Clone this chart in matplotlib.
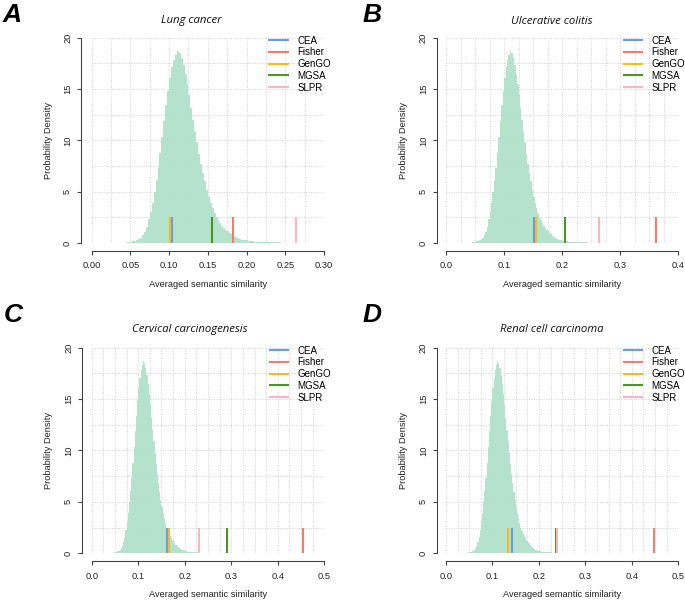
import numpy as np
import matplotlib
matplotlib.use("Agg")
import matplotlib.pyplot as plt
from matplotlib.lines import Line2D
from matplotlib.ticker import MultipleLocator

# ---------------- data ----------------
panel_letters = ["A", "B", "C", "D"]
panel_titles = ["Lung cancer", "Ulcerative colitis",
                "Cervical carcinogenesis", "Renal cell carcinoma"]
methods = ["CEA", "Fisher", "GenGO", "MGSA", "SLPR"]
method_colors = ["#6b9ae8", "#f47c6c", "#f8b91c", "#4d9423", "#fcb5bf"]

# observed averaged semantic similarity per method, per panel (A, B, C, D)
cea_values = [0.104, 0.152, 0.161, 0.141]
fisher_values = [0.182, 0.361, 0.455, 0.447]
gengo_values = [0.101, 0.155, 0.167, 0.133]
mgsa_values = [0.156, 0.205, 0.291, 0.236]
slpr_values = [0.264, 0.263, 0.231, 0.238]

x_max = [0.30, 0.4, 0.5, 0.5]
x_tick_labels = [
    ["0.00", "0.05", "0.10", "0.15", "0.20", "0.25", "0.30"],
    ["0.0", "0.1", "0.2", "0.3", "0.4"],
    ["0.0", "0.1", "0.2", "0.3", "0.4", "0.5"],
    ["0.0", "0.1", "0.2", "0.3", "0.4", "0.5"],
]
y_ticks = [0, 5, 10, 15, 20]

# null distribution histogram (same in all panels)
hist_start = 0.035
hist_bin_width = 0.0025
hist_density = [
    0.01, 0.02, 0.03, 0.04, 0.06, 0.08, 0.11, 0.15, 0.20, 0.27,
    0.36, 0.50, 0.75, 1.10, 1.60, 2.30, 3.00, 3.90, 5.00, 6.10,
    7.30, 8.80, 10.3, 11.9, 13.4, 14.8, 16.1, 17.1, 17.8, 18.3,
    18.7, 18.5, 18.0, 17.3, 16.5, 15.5, 14.4, 13.2, 12.0, 10.9,
    9.80, 8.70, 7.70, 6.80, 6.00, 5.20, 4.50, 3.90, 3.40, 2.90,
    2.50, 2.20, 1.90, 1.65, 1.45, 1.30, 1.15, 1.00, 0.85, 0.70,
    0.58, 0.48, 0.40, 0.34, 0.29, 0.25, 0.22, 0.19, 0.17, 0.15,
    0.13, 0.12, 0.11, 0.10, 0.09, 0.085, 0.08, 0.075, 0.07, 0.065,
    0.06, 0.055, 0.05, 0.05, 0.045, 0.045, 0.04, 0.04, 0.04, 0.035,
    0.035, 0.035, 0.03, 0.03, 0.03, 0.03, 0.03, 0.025, 0.025, 0.025,
    0.025, 0.025, 0.02, 0.02, 0.02, 0.02,
]

# ---------------- layout ----------------
W, H = 685, 600
fig = plt.figure(figsize=(W / 100, H / 100), dpi=100)

# axes boxes in pixels: left, top, right, bottom
boxes = [(91.7, 37.7, 324.0, 243.0), (446.0, 37.7, 678.3, 243.0),
         (91.7, 347.7, 324.3, 553.3), (446.0, 347.7, 678.3, 553.3)]
left_offsets = [11.0, 9.5, 10.0, 9.5]
letter_pos = [(12, 15), (372, 15), (13, 315), (372, 315)]
title_pos = [(191, 21), (552, 21), (190, 329.5), (552, 329.5)]
ylabel_x = [49, 403, 49, 403]

R_FONT = "Liberation Sans"
fs = 6.7
grey = "#444444"

edges = hist_start + hist_bin_width * np.arange(len(hist_density) + 1)
all_vals = [cea_values, fisher_values, gengo_values, mgsa_values, slpr_values]

for i in range(4):
    l, t, r, b = boxes[i]
    ax = fig.add_axes([l / W, 1 - b / H, (r - l) / W, (b - t) / H])
    xm = x_max[i]
    ax.set_xlim(0, xm)
    ax.set_ylim(0, 20)

    # grid
    ax.xaxis.set_minor_locator(MultipleLocator(0.025))
    ax.yaxis.set_minor_locator(MultipleLocator(2.5))
    ax.grid(which="both", linestyle=(0, (1, 1.5)), color="#d0d0d0", linewidth=0.7, zorder=0)
    ax.set_axisbelow(True)

    # histogram
    ax.stairs(hist_density, edges, fill=True, color="#b0e1ca", alpha=0.95,
              linewidth=0, zorder=2)

    # method lines
    for k, m in enumerate(methods):
        ax.vlines(all_vals[k][i], 0, 2.5, colors=method_colors[k], linewidth=1.5, zorder=3)

    # axes styling
    for s in ["top", "right"]:
        ax.spines[s].set_visible(False)
    ax.spines["left"].set_position(("outward", left_offsets[i] * 0.72))
    ax.spines["bottom"].set_position(("outward", 7.7 * 0.72))
    ax.spines["left"].set_bounds(0, 20)
    ax.spines["bottom"].set_bounds(0, xm)
    for s in ["left", "bottom"]:
        ax.spines[s].set_color(grey)
        ax.spines[s].set_linewidth(0.8)

    xt = [float(v) for v in x_tick_labels[i]]
    ax.set_xticks(xt)
    ax.set_xticklabels(x_tick_labels[i], fontsize=fs, family=R_FONT, color="#222222")
    ax.set_yticks(y_ticks)
    ax.set_yticklabels([str(v) for v in y_ticks], fontsize=fs, family=R_FONT,
                       color="#222222", rotation=90, va="center")
    ax.tick_params(which="major", length=3.2, width=0.8, color=grey)
    ax.tick_params(axis="x", pad=4.5)
    ax.tick_params(axis="y", pad=3.0)
    ax.tick_params(which="minor", length=0)

    ax.set_xlabel("Averaged semantic similarity", fontsize=fs, family=R_FONT,
                  color="#222222", labelpad=7)

    handles = [Line2D([0], [0], color=c, lw=1.5) for c in method_colors]
    ax.legend(handles, methods, loc="upper left", bbox_to_anchor=(0.765, 1.01),
              frameon=False, borderpad=0, borderaxespad=0, handlelength=1.9,
              handletextpad=0.95, labelspacing=0.18,
              prop={"family": R_FONT, "size": 7.0})

    fig.text(ylabel_x[i] / W, 1 - ((t + b) / 2) / H, "Probability Density",
             rotation=90, ha="center", va="center", fontsize=fs, family=R_FONT,
             color="#222222")
    fig.text(title_pos[i][0] / W, 1 - title_pos[i][1] / H, panel_titles[i],
             ha="center", va="center", fontsize=8.2, family="Open Sans",
             style="italic", color="#111111")
    fig.text(letter_pos[i][0] / W, 1 - letter_pos[i][1] / H, panel_letters[i],
             ha="center", va="center", fontsize=19, family="Liberation Sans",
             style="italic", weight="bold", color="black")

fig.savefig("out.png", dpi=100)
